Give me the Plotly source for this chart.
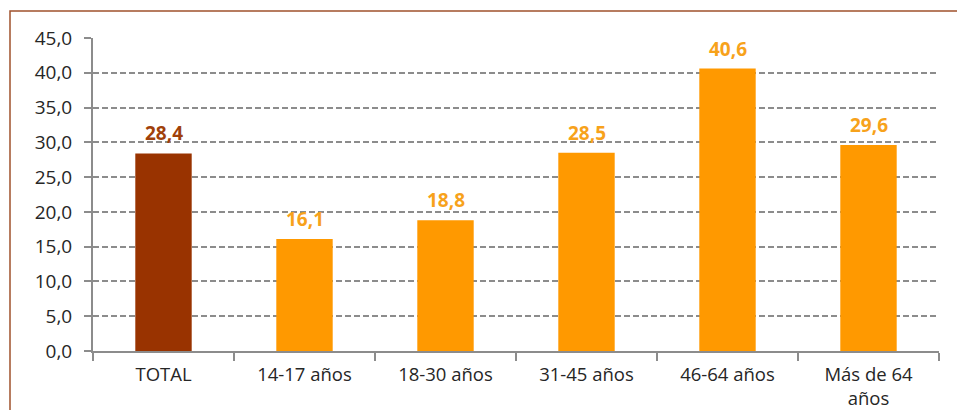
import plotly.graph_objects as go

categories = ["TOTAL", "14-17 años", "18-30 años", "31-45 años", "46-64 años", "Más de 64<br>años"]
values = [28.4, 16.1, 18.8, 28.5, 40.6, 29.6]
colors = ["#993300", "#FF9900", "#FF9900", "#FF9900", "#FF9900", "#FF9900"]
label_colors = ["#A0400A", "#F7A21B", "#F7A21B", "#F7A21B", "#F7A21B", "#F7A21B"]
y_ticks = [0, 5, 10, 15, 20, 25, 30, 35, 40, 45]
y_tick_labels = ["0,0", "5,0", "10,0", "15,0", "20,0", "25,0", "30,0", "35,0", "40,0", "45,0"]
value_labels = [f"{v:.1f}".replace(".", ",") for v in values]

W, H = 957, 410
L, R, T, B = 93, 18, 38, 59
pw = W - L - R
ph = H - T - B

FONT = "Open Sans, Lato, sans-serif"

fig = go.Figure()
fig.add_trace(go.Bar(
    x=categories, y=values,
    marker=dict(color=colors, line=dict(width=0)),
    width=0.4,
    hoverinfo="skip",
))

for cat, val, lab, col in zip(categories, values, value_labels, label_colors):
    fig.add_annotation(
        x=cat, y=val, xref="x", yref="y",
        text=f"<b>{lab}</b>", showarrow=False,
        yanchor="bottom", yshift=5,
        font=dict(family=FONT, size=19, color=col),
    )

fig.update_layout(
    width=W, height=H,
    margin=dict(l=L, r=R, t=T, b=B, autoexpand=False),
    paper_bgcolor="white", plot_bgcolor="white",
    showlegend=False,
    font=dict(family=FONT, size=18, color="#262626"),
    xaxis=dict(
        showline=True, linecolor="#8C8C8C", linewidth=2,
        ticks="outside", ticklen=8, tickcolor="#8C8C8C", tickwidth=2,
        tickson="boundaries", showgrid=False,
        ticklabelstandoff=6,
        tickfont=dict(family=FONT, size=18.5, color="#262626"),
    ),
    yaxis=dict(
        range=[0, 45], tickvals=y_ticks, ticktext=y_tick_labels,
        showline=True, linecolor="#8C8C8C", linewidth=2,
        ticks="outside", ticklen=7, tickcolor="#8C8C8C", tickwidth=2,
        showgrid=True, gridcolor="#8C8C8C", gridwidth=2, griddash="6px,3px",
        zeroline=False,
        ticklabelstandoff=8,
        tickfont=dict(family=FONT, size=19, color="#262626"),
    ),
)

# outer chart border (brown)
fig.add_shape(
    type="rect", xref="paper", yref="paper",
    x0=(10 - L) / pw, x1=(W + 5 - L) / pw,
    y0=(H - B - (H + 5)) / ph, y1=(H - B - 11) / ph,
    line=dict(color="#A0522D", width=1.5), fillcolor="rgba(0,0,0,0)",
    layer="below",
)

fig.write_html(
    "out.html",
    config={"displayModeBar": False},
    post_script="document.body.style.margin='0';document.body.style.padding='0';",
)
